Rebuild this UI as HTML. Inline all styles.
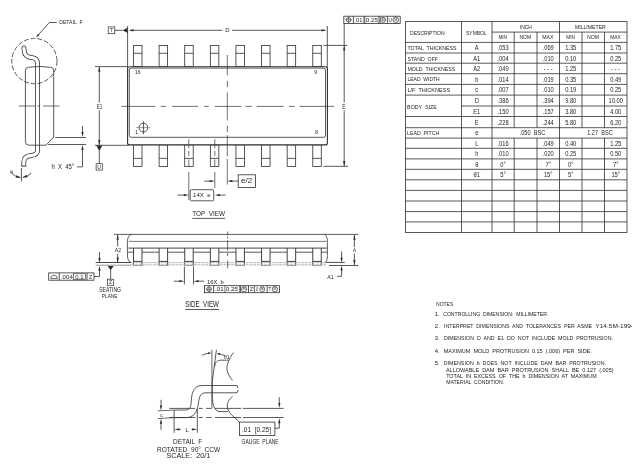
<!DOCTYPE html>
<html><head><meta charset="utf-8"><style>
html,body{margin:0;padding:0;background:#fff;}
svg{display:block;}
text{font-family:"Liberation Sans",sans-serif;white-space:pre;}
svg{will-change:transform;}
</style></head><body>
<svg width="632" height="467" viewBox="0 0 632 467">
<rect width="632" height="467" fill="#fff"/>
<rect x="405.50" y="21.60" width="221.50" height="210.90" fill="none" stroke="#2e2e2e" stroke-width="0.8"/>
<line x1="461.50" y1="21.60" x2="461.50" y2="232.50" stroke="#2e2e2e" stroke-width="0.8"/>
<line x1="492.00" y1="21.60" x2="492.00" y2="232.50" stroke="#2e2e2e" stroke-width="0.8"/>
<line x1="559.50" y1="21.60" x2="559.50" y2="232.50" stroke="#2e2e2e" stroke-width="0.8"/>
<line x1="514.20" y1="32.10" x2="514.20" y2="127.70" stroke="#2e2e2e" stroke-width="0.8"/>
<line x1="514.20" y1="138.10" x2="514.20" y2="232.50" stroke="#2e2e2e" stroke-width="0.8"/>
<line x1="537.00" y1="32.10" x2="537.00" y2="127.70" stroke="#2e2e2e" stroke-width="0.8"/>
<line x1="537.00" y1="138.10" x2="537.00" y2="232.50" stroke="#2e2e2e" stroke-width="0.8"/>
<line x1="582.00" y1="32.10" x2="582.00" y2="127.70" stroke="#2e2e2e" stroke-width="0.8"/>
<line x1="582.00" y1="138.10" x2="582.00" y2="232.50" stroke="#2e2e2e" stroke-width="0.8"/>
<line x1="604.50" y1="32.10" x2="604.50" y2="127.70" stroke="#2e2e2e" stroke-width="0.8"/>
<line x1="604.50" y1="138.10" x2="604.50" y2="232.50" stroke="#2e2e2e" stroke-width="0.8"/>
<line x1="492.00" y1="32.10" x2="627.00" y2="32.10" stroke="#2e2e2e" stroke-width="0.8"/>
<line x1="405.50" y1="42.40" x2="627.00" y2="42.40" stroke="#2e2e2e" stroke-width="0.8"/>
<line x1="405.50" y1="53.00" x2="627.00" y2="53.00" stroke="#2e2e2e" stroke-width="0.8"/>
<line x1="405.50" y1="63.20" x2="627.00" y2="63.20" stroke="#2e2e2e" stroke-width="0.8"/>
<line x1="405.50" y1="73.70" x2="627.00" y2="73.70" stroke="#2e2e2e" stroke-width="0.8"/>
<line x1="405.50" y1="84.40" x2="627.00" y2="84.40" stroke="#2e2e2e" stroke-width="0.8"/>
<line x1="405.50" y1="95.10" x2="627.00" y2="95.10" stroke="#2e2e2e" stroke-width="0.8"/>
<line x1="461.50" y1="106.00" x2="627.00" y2="106.00" stroke="#2e2e2e" stroke-width="0.8"/>
<line x1="405.50" y1="116.50" x2="627.00" y2="116.50" stroke="#2e2e2e" stroke-width="0.8"/>
<line x1="405.50" y1="127.70" x2="627.00" y2="127.70" stroke="#2e2e2e" stroke-width="0.8"/>
<line x1="405.50" y1="138.10" x2="627.00" y2="138.10" stroke="#2e2e2e" stroke-width="0.8"/>
<line x1="405.50" y1="148.30" x2="627.00" y2="148.30" stroke="#2e2e2e" stroke-width="0.8"/>
<line x1="405.50" y1="158.90" x2="627.00" y2="158.90" stroke="#2e2e2e" stroke-width="0.8"/>
<line x1="405.50" y1="169.30" x2="627.00" y2="169.30" stroke="#2e2e2e" stroke-width="0.8"/>
<line x1="405.50" y1="179.80" x2="627.00" y2="179.80" stroke="#2e2e2e" stroke-width="0.8"/>
<line x1="405.50" y1="190.40" x2="627.00" y2="190.40" stroke="#2e2e2e" stroke-width="0.8"/>
<line x1="405.50" y1="201.00" x2="627.00" y2="201.00" stroke="#2e2e2e" stroke-width="0.8"/>
<line x1="405.50" y1="211.60" x2="627.00" y2="211.60" stroke="#2e2e2e" stroke-width="0.8"/>
<line x1="405.50" y1="221.90" x2="627.00" y2="221.90" stroke="#2e2e2e" stroke-width="0.8"/>
<text x="410.00" y="34.90" font-size="6.00" text-anchor="start" fill="#1e1e1e" textLength="34.60" lengthAdjust="spacingAndGlyphs">DESCRIPTION</text>
<text x="466.10" y="35.00" font-size="5.71" text-anchor="start" fill="#1e1e1e" textLength="20.50" lengthAdjust="spacingAndGlyphs">SYMBOL</text>
<text x="519.80" y="29.20" font-size="5.57" text-anchor="start" fill="#1e1e1e" textLength="12.10" lengthAdjust="spacingAndGlyphs">INCH</text>
<text x="574.90" y="28.80" font-size="5.57" text-anchor="start" fill="#1e1e1e" textLength="30.90" lengthAdjust="spacingAndGlyphs">MILLIMETER</text>
<text x="498.40" y="39.00" font-size="5.71" text-anchor="start" fill="#1e1e1e" textLength="8.60" lengthAdjust="spacingAndGlyphs">MIN</text>
<text x="519.40" y="39.00" font-size="5.71" text-anchor="start" fill="#1e1e1e" textLength="11.80" lengthAdjust="spacingAndGlyphs">NOM</text>
<text x="542.20" y="39.00" font-size="5.71" text-anchor="start" fill="#1e1e1e" textLength="11.20" lengthAdjust="spacingAndGlyphs">MAX</text>
<text x="566.20" y="39.00" font-size="5.71" text-anchor="start" fill="#1e1e1e" textLength="8.70" lengthAdjust="spacingAndGlyphs">MIN</text>
<text x="586.90" y="39.00" font-size="5.71" text-anchor="start" fill="#1e1e1e" textLength="12.10" lengthAdjust="spacingAndGlyphs">NOM</text>
<text x="610.20" y="39.00" font-size="5.71" text-anchor="start" fill="#1e1e1e" textLength="10.60" lengthAdjust="spacingAndGlyphs">MAX</text>
<text x="407.50" y="50.10" font-size="5.86" text-anchor="start" fill="#1e1e1e" textLength="48.90" lengthAdjust="spacingAndGlyphs">TOTAL  THICKNESS</text>
<text x="407.50" y="60.60" font-size="5.86" text-anchor="start" fill="#1e1e1e" textLength="30.50" lengthAdjust="spacingAndGlyphs">STAND  OFF</text>
<text x="407.50" y="71.00" font-size="5.86" text-anchor="start" fill="#1e1e1e" textLength="47.80" lengthAdjust="spacingAndGlyphs">MOLD  THICKNESS</text>
<text x="407.50" y="81.40" font-size="5.86" text-anchor="start" fill="#1e1e1e" textLength="32.20" lengthAdjust="spacingAndGlyphs">LEAD  WIDTH</text>
<text x="407.50" y="91.80" font-size="5.86" text-anchor="start" fill="#1e1e1e" textLength="42.60" lengthAdjust="spacingAndGlyphs">L/F  THICKNESS</text>
<text x="407.10" y="108.70" font-size="5.86" text-anchor="start" fill="#1e1e1e" textLength="29.70" lengthAdjust="spacingAndGlyphs">BODY  SIZE</text>
<text x="407.10" y="134.70" font-size="5.86" text-anchor="start" fill="#1e1e1e" textLength="32.10" lengthAdjust="spacingAndGlyphs">LEAD  PITCH</text>
<text x="474.84" y="50.24" font-size="6.50" fill="#1e1e1e" textLength="3.82" lengthAdjust="spacingAndGlyphs">A</text>
<text x="497.53" y="50.24" font-size="6.50" fill="#1e1e1e" textLength="11.13" lengthAdjust="spacingAndGlyphs">.053</text>
<text x="542.68" y="50.24" font-size="6.50" fill="#1e1e1e" textLength="11.13" lengthAdjust="spacingAndGlyphs">.069</text>
<text x="565.18" y="50.24" font-size="6.50" fill="#1e1e1e" textLength="11.13" lengthAdjust="spacingAndGlyphs">1.35</text>
<text x="610.18" y="50.24" font-size="6.50" fill="#1e1e1e" textLength="11.13" lengthAdjust="spacingAndGlyphs">1.75</text>
<text x="473.25" y="60.64" font-size="6.50" fill="#1e1e1e" textLength="7.00" lengthAdjust="spacingAndGlyphs">A1</text>
<text x="497.53" y="60.64" font-size="6.50" fill="#1e1e1e" textLength="11.13" lengthAdjust="spacingAndGlyphs">.004</text>
<text x="542.68" y="60.64" font-size="6.50" fill="#1e1e1e" textLength="11.13" lengthAdjust="spacingAndGlyphs">.010</text>
<text x="565.18" y="60.64" font-size="6.50" fill="#1e1e1e" textLength="11.13" lengthAdjust="spacingAndGlyphs">0.10</text>
<text x="610.18" y="60.64" font-size="6.50" fill="#1e1e1e" textLength="11.13" lengthAdjust="spacingAndGlyphs">0.25</text>
<text x="473.25" y="70.99" font-size="6.50" fill="#1e1e1e" textLength="7.00" lengthAdjust="spacingAndGlyphs">A2</text>
<text x="497.53" y="70.99" font-size="6.50" fill="#1e1e1e" textLength="11.13" lengthAdjust="spacingAndGlyphs">.049</text>
<text x="543.80" y="70.99" font-size="6.50" fill="#1e1e1e" textLength="8.89" lengthAdjust="spacingAndGlyphs">- - -</text>
<text x="565.18" y="70.99" font-size="6.50" fill="#1e1e1e" textLength="11.13" lengthAdjust="spacingAndGlyphs">1.25</text>
<text x="611.30" y="70.99" font-size="6.50" fill="#1e1e1e" textLength="8.89" lengthAdjust="spacingAndGlyphs">- - -</text>
<text x="475.16" y="81.59" font-size="6.50" fill="#1e1e1e" textLength="3.18" lengthAdjust="spacingAndGlyphs">b</text>
<text x="497.53" y="81.59" font-size="6.50" fill="#1e1e1e" textLength="11.13" lengthAdjust="spacingAndGlyphs">.014</text>
<text x="542.68" y="81.59" font-size="6.50" fill="#1e1e1e" textLength="11.13" lengthAdjust="spacingAndGlyphs">.019</text>
<text x="565.18" y="81.59" font-size="6.50" fill="#1e1e1e" textLength="11.13" lengthAdjust="spacingAndGlyphs">0.35</text>
<text x="610.18" y="81.59" font-size="6.50" fill="#1e1e1e" textLength="11.13" lengthAdjust="spacingAndGlyphs">0.49</text>
<text x="475.32" y="92.29" font-size="6.50" fill="#1e1e1e" textLength="2.86" lengthAdjust="spacingAndGlyphs">c</text>
<text x="497.53" y="92.29" font-size="6.50" fill="#1e1e1e" textLength="11.13" lengthAdjust="spacingAndGlyphs">.007</text>
<text x="542.68" y="92.29" font-size="6.50" fill="#1e1e1e" textLength="11.13" lengthAdjust="spacingAndGlyphs">.010</text>
<text x="565.18" y="92.29" font-size="6.50" fill="#1e1e1e" textLength="11.13" lengthAdjust="spacingAndGlyphs">0.19</text>
<text x="610.18" y="92.29" font-size="6.50" fill="#1e1e1e" textLength="11.13" lengthAdjust="spacingAndGlyphs">0.25</text>
<text x="474.68" y="103.09" font-size="6.50" fill="#1e1e1e" textLength="4.13" lengthAdjust="spacingAndGlyphs">D</text>
<text x="497.53" y="103.09" font-size="6.50" fill="#1e1e1e" textLength="11.13" lengthAdjust="spacingAndGlyphs">.386</text>
<text x="542.68" y="103.09" font-size="6.50" fill="#1e1e1e" textLength="11.13" lengthAdjust="spacingAndGlyphs">.394</text>
<text x="565.18" y="103.09" font-size="6.50" fill="#1e1e1e" textLength="11.13" lengthAdjust="spacingAndGlyphs">9.80</text>
<text x="608.59" y="103.09" font-size="6.50" fill="#1e1e1e" textLength="14.31" lengthAdjust="spacingAndGlyphs">10.00</text>
<text x="473.25" y="113.79" font-size="6.50" fill="#1e1e1e" textLength="7.00" lengthAdjust="spacingAndGlyphs">E1</text>
<text x="497.53" y="113.79" font-size="6.50" fill="#1e1e1e" textLength="11.13" lengthAdjust="spacingAndGlyphs">.150</text>
<text x="542.68" y="113.79" font-size="6.50" fill="#1e1e1e" textLength="11.13" lengthAdjust="spacingAndGlyphs">.157</text>
<text x="565.18" y="113.79" font-size="6.50" fill="#1e1e1e" textLength="11.13" lengthAdjust="spacingAndGlyphs">3.80</text>
<text x="610.18" y="113.79" font-size="6.50" fill="#1e1e1e" textLength="11.13" lengthAdjust="spacingAndGlyphs">4.00</text>
<text x="474.84" y="124.64" font-size="6.50" fill="#1e1e1e" textLength="3.82" lengthAdjust="spacingAndGlyphs">E</text>
<text x="497.53" y="124.64" font-size="6.50" fill="#1e1e1e" textLength="11.13" lengthAdjust="spacingAndGlyphs">.228</text>
<text x="542.68" y="124.64" font-size="6.50" fill="#1e1e1e" textLength="11.13" lengthAdjust="spacingAndGlyphs">.244</text>
<text x="565.18" y="124.64" font-size="6.50" fill="#1e1e1e" textLength="11.13" lengthAdjust="spacingAndGlyphs">5.80</text>
<text x="610.18" y="124.64" font-size="6.50" fill="#1e1e1e" textLength="11.13" lengthAdjust="spacingAndGlyphs">6.20</text>
<text x="475.16" y="135.44" font-size="6.50" fill="#1e1e1e" textLength="3.18" lengthAdjust="spacingAndGlyphs">e</text>
<text x="475.16" y="145.74" font-size="6.50" fill="#1e1e1e" textLength="3.18" lengthAdjust="spacingAndGlyphs">L</text>
<text x="497.53" y="145.74" font-size="6.50" fill="#1e1e1e" textLength="11.13" lengthAdjust="spacingAndGlyphs">.016</text>
<text x="542.68" y="145.74" font-size="6.50" fill="#1e1e1e" textLength="11.13" lengthAdjust="spacingAndGlyphs">.049</text>
<text x="565.18" y="145.74" font-size="6.50" fill="#1e1e1e" textLength="11.13" lengthAdjust="spacingAndGlyphs">0.40</text>
<text x="610.18" y="145.74" font-size="6.50" fill="#1e1e1e" textLength="11.13" lengthAdjust="spacingAndGlyphs">1.25</text>
<text x="475.16" y="156.14" font-size="6.50" fill="#1e1e1e" textLength="3.18" lengthAdjust="spacingAndGlyphs">h</text>
<text x="497.53" y="156.14" font-size="6.50" fill="#1e1e1e" textLength="11.13" lengthAdjust="spacingAndGlyphs">.010</text>
<text x="542.68" y="156.14" font-size="6.50" fill="#1e1e1e" textLength="11.13" lengthAdjust="spacingAndGlyphs">.020</text>
<text x="565.18" y="156.14" font-size="6.50" fill="#1e1e1e" textLength="11.13" lengthAdjust="spacingAndGlyphs">0.25</text>
<text x="610.18" y="156.14" font-size="6.50" fill="#1e1e1e" textLength="11.13" lengthAdjust="spacingAndGlyphs">0.50</text>
<text x="475.16" y="166.64" font-size="6.50" fill="#1e1e1e" textLength="3.18" lengthAdjust="spacingAndGlyphs">θ</text>
<text x="500.37" y="166.64" font-size="6.50" fill="#1e1e1e" textLength="5.47" lengthAdjust="spacingAndGlyphs">0°</text>
<text x="545.52" y="166.64" font-size="6.50" fill="#1e1e1e" textLength="5.47" lengthAdjust="spacingAndGlyphs">7°</text>
<text x="568.02" y="166.64" font-size="6.50" fill="#1e1e1e" textLength="5.47" lengthAdjust="spacingAndGlyphs">0°</text>
<text x="613.02" y="166.64" font-size="6.50" fill="#1e1e1e" textLength="5.47" lengthAdjust="spacingAndGlyphs">7°</text>
<text x="473.57" y="177.09" font-size="6.50" fill="#1e1e1e" textLength="6.36" lengthAdjust="spacingAndGlyphs">θ1</text>
<text x="500.37" y="177.09" font-size="6.50" fill="#1e1e1e" textLength="5.47" lengthAdjust="spacingAndGlyphs">5°</text>
<text x="543.93" y="177.09" font-size="6.50" fill="#1e1e1e" textLength="8.65" lengthAdjust="spacingAndGlyphs">15°</text>
<text x="568.02" y="177.09" font-size="6.50" fill="#1e1e1e" textLength="5.47" lengthAdjust="spacingAndGlyphs">5°</text>
<text x="611.43" y="177.09" font-size="6.50" fill="#1e1e1e" textLength="8.65" lengthAdjust="spacingAndGlyphs">15°</text>
<text x="519.70" y="135.10" font-size="6.29" text-anchor="start" fill="#1e1e1e" textLength="25.60" lengthAdjust="spacingAndGlyphs">.050  BSC</text>
<text x="587.20" y="135.10" font-size="6.29" text-anchor="start" fill="#1e1e1e" textLength="25.50" lengthAdjust="spacingAndGlyphs">1.27  BSC</text>
<text x="436.1" y="305.8" font-size="5.9" fill="#1e1e1e" textLength="17.1" lengthAdjust="spacingAndGlyphs">NOTES</text>
<text x="434.8" y="315.6" font-size="5.9" fill="#1e1e1e">1.</text>
<text x="443.2" y="315.6" font-size="5.9" fill="#1e1e1e" textLength="105.2" lengthAdjust="spacingAndGlyphs">CONTROLLING  DIMENSION:  MILLIMETER.</text>
<text x="434.8" y="327.9" font-size="5.9" fill="#1e1e1e">2.</text>
<text x="444" y="327.9" font-size="5.9" fill="#1e1e1e" textLength="148.1" lengthAdjust="spacingAndGlyphs">INTERPRET  DIMENSIONS  AND  TOLERANCES  PER  ASME</text>
<text x="595.3" y="327.9" font-size="5.9" fill="#1e1e1e" textLength="41.2" lengthAdjust="spacingAndGlyphs">Y14.5M-1994.</text>
<text x="434.8" y="340.1" font-size="5.9" fill="#1e1e1e">3.</text>
<text x="444" y="340.1" font-size="5.9" fill="#1e1e1e" textLength="169.0" lengthAdjust="spacingAndGlyphs">DIMENSION  D  AND  E1  DO  NOT  INCLUDE  MOLD  PROTRUSION.</text>
<text x="434.8" y="353.0" font-size="5.9" fill="#1e1e1e">4.</text>
<text x="443.8" y="353.0" font-size="5.9" fill="#1e1e1e" textLength="148.0" lengthAdjust="spacingAndGlyphs">MAXIMUM  MOLD  PROTRUSION  0.15  (.006)  PER  SIDE.</text>
<text x="434.8" y="365.2" font-size="5.9" fill="#1e1e1e">5.</text>
<text x="443.8" y="365.2" font-size="5.9" fill="#1e1e1e" textLength="162.2" lengthAdjust="spacingAndGlyphs">DIMENSION  b  DOES  NOT  INCLUDE  DAM  BAR  PROTRUSION.</text>
<text x="445.9" y="371.7" font-size="5.9" fill="#1e1e1e" textLength="167.7" lengthAdjust="spacingAndGlyphs">ALLOWABLE  DAM  BAR  PROTRUSION  SHALL  BE  0.127  (.005)</text>
<text x="446.2" y="378.0" font-size="5.9" fill="#1e1e1e" textLength="150.4" lengthAdjust="spacingAndGlyphs">TOTAL  IN  EXCESS  OF  THE  b  DIMENSION  AT  MAXIMUM</text>
<text x="446.2" y="383.9" font-size="5.9" fill="#1e1e1e" textLength="58.0" lengthAdjust="spacingAndGlyphs">MATERIAL  CONDITION.</text>
<rect x="133.50" y="45.40" width="8.50" height="21.20" fill="none" stroke="#2e2e2e" stroke-width="0.8"/>
<line x1="133.50" y1="53.30" x2="142.00" y2="53.30" stroke="#2e2e2e" stroke-width="0.8"/>
<rect x="159.11" y="45.40" width="8.50" height="21.20" fill="none" stroke="#2e2e2e" stroke-width="0.8"/>
<line x1="159.11" y1="53.30" x2="167.61" y2="53.30" stroke="#2e2e2e" stroke-width="0.8"/>
<rect x="184.72" y="45.40" width="8.50" height="21.20" fill="none" stroke="#2e2e2e" stroke-width="0.8"/>
<line x1="184.72" y1="53.30" x2="193.22" y2="53.30" stroke="#2e2e2e" stroke-width="0.8"/>
<rect x="210.33" y="45.40" width="8.50" height="21.20" fill="none" stroke="#2e2e2e" stroke-width="0.8"/>
<line x1="210.33" y1="53.30" x2="218.83" y2="53.30" stroke="#2e2e2e" stroke-width="0.8"/>
<rect x="235.94" y="45.40" width="8.50" height="21.20" fill="none" stroke="#2e2e2e" stroke-width="0.8"/>
<line x1="235.94" y1="53.30" x2="244.44" y2="53.30" stroke="#2e2e2e" stroke-width="0.8"/>
<rect x="261.55" y="45.40" width="8.50" height="21.20" fill="none" stroke="#2e2e2e" stroke-width="0.8"/>
<line x1="261.55" y1="53.30" x2="270.05" y2="53.30" stroke="#2e2e2e" stroke-width="0.8"/>
<rect x="287.16" y="45.40" width="8.50" height="21.20" fill="none" stroke="#2e2e2e" stroke-width="0.8"/>
<line x1="287.16" y1="53.30" x2="295.66" y2="53.30" stroke="#2e2e2e" stroke-width="0.8"/>
<rect x="312.77" y="45.40" width="8.50" height="21.20" fill="none" stroke="#2e2e2e" stroke-width="0.8"/>
<line x1="312.77" y1="53.30" x2="321.27" y2="53.30" stroke="#2e2e2e" stroke-width="0.8"/>
<rect x="133.50" y="144.80" width="8.50" height="21.70" fill="none" stroke="#2e2e2e" stroke-width="0.8"/>
<line x1="133.50" y1="158.40" x2="142.00" y2="158.40" stroke="#2e2e2e" stroke-width="0.8"/>
<rect x="159.11" y="144.80" width="8.50" height="21.70" fill="none" stroke="#2e2e2e" stroke-width="0.8"/>
<line x1="159.11" y1="158.40" x2="167.61" y2="158.40" stroke="#2e2e2e" stroke-width="0.8"/>
<rect x="184.72" y="144.80" width="8.50" height="21.70" fill="none" stroke="#2e2e2e" stroke-width="0.8"/>
<line x1="184.72" y1="158.40" x2="193.22" y2="158.40" stroke="#2e2e2e" stroke-width="0.8"/>
<rect x="210.33" y="144.80" width="8.50" height="21.70" fill="none" stroke="#2e2e2e" stroke-width="0.8"/>
<line x1="210.33" y1="158.40" x2="218.83" y2="158.40" stroke="#2e2e2e" stroke-width="0.8"/>
<rect x="235.94" y="144.80" width="8.50" height="21.70" fill="none" stroke="#2e2e2e" stroke-width="0.8"/>
<line x1="235.94" y1="158.40" x2="244.44" y2="158.40" stroke="#2e2e2e" stroke-width="0.8"/>
<rect x="261.55" y="144.80" width="8.50" height="21.70" fill="none" stroke="#2e2e2e" stroke-width="0.8"/>
<line x1="261.55" y1="158.40" x2="270.05" y2="158.40" stroke="#2e2e2e" stroke-width="0.8"/>
<rect x="287.16" y="144.80" width="8.50" height="21.70" fill="none" stroke="#2e2e2e" stroke-width="0.8"/>
<line x1="287.16" y1="158.40" x2="295.66" y2="158.40" stroke="#2e2e2e" stroke-width="0.8"/>
<rect x="312.77" y="144.80" width="8.50" height="21.70" fill="none" stroke="#2e2e2e" stroke-width="0.8"/>
<line x1="312.77" y1="158.40" x2="321.27" y2="158.40" stroke="#2e2e2e" stroke-width="0.8"/>
<rect x="127.6" y="66.7" width="199.8" height="78.2" rx="2" fill="#fff" stroke="#2e2e2e" stroke-width="1.1"/>
<rect x="129.3" y="68.1" width="196.2" height="69.2" rx="2" fill="none" stroke="#2e2e2e" stroke-width="0.8"/>
<line x1="127.60" y1="26.00" x2="127.60" y2="68.00" stroke="#2e2e2e" stroke-width="0.8"/>
<line x1="327.30" y1="26.00" x2="327.30" y2="68.00" stroke="#2e2e2e" stroke-width="0.8"/>
<line x1="95.00" y1="66.60" x2="127.60" y2="66.60" stroke="#2e2e2e" stroke-width="0.8"/>
<line x1="95.00" y1="145.30" x2="128.50" y2="145.30" stroke="#2e2e2e" stroke-width="0.8"/>
<line x1="323.50" y1="45.40" x2="347.50" y2="45.40" stroke="#2e2e2e" stroke-width="0.8"/>
<line x1="323.50" y1="166.30" x2="348.00" y2="166.30" stroke="#2e2e2e" stroke-width="0.8"/>
<line x1="130.00" y1="30.30" x2="222.50" y2="30.30" stroke="#2e2e2e" stroke-width="0.8"/>
<line x1="232.00" y1="30.30" x2="325.00" y2="30.30" stroke="#2e2e2e" stroke-width="0.8"/>
<polygon points="129.00,30.30 133.50,29.15 133.50,31.45" fill="#2e2e2e"/>
<polygon points="326.10,30.30 321.60,31.45 321.60,29.15" fill="#2e2e2e"/>
<text x="227.30" y="31.86" font-size="6.00" text-anchor="middle" fill="#1e1e1e">D</text>
<polygon points="127.6,27.7 127.6,32.9 122.6,30.3" fill="#2e2e2e"/>
<line x1="114.80" y1="30.30" x2="122.60" y2="30.30" stroke="#2e2e2e" stroke-width="0.8"/>
<rect x="108.20" y="26.90" width="6.60" height="6.80" fill="none" stroke="#2e2e2e" stroke-width="0.7"/>
<text x="111.50" y="32.09" font-size="5.20" text-anchor="middle" fill="#1e1e1e">T</text>
<line x1="99.30" y1="67.00" x2="99.30" y2="102.50" stroke="#2e2e2e" stroke-width="0.8"/>
<line x1="99.30" y1="110.30" x2="99.30" y2="145.30" stroke="#2e2e2e" stroke-width="0.8"/>
<polygon points="99.30,66.80 100.45,71.80 98.15,71.80" fill="#2e2e2e"/>
<polygon points="99.30,144.90 98.15,139.90 100.45,139.90" fill="#2e2e2e"/>
<text x="96.70" y="108.80" font-size="6.86" text-anchor="start" fill="#1e1e1e" textLength="5.60" lengthAdjust="spacingAndGlyphs">E1</text>
<polygon points="96.2,145.6 102.4,145.6 99.3,150.9" fill="#2e2e2e"/>
<line x1="99.30" y1="150.50" x2="99.30" y2="163.70" stroke="#2e2e2e" stroke-width="0.8"/>
<rect x="96.10" y="163.70" width="6.20" height="6.40" fill="none" stroke="#2e2e2e" stroke-width="0.7"/>
<text x="99.20" y="168.69" font-size="5.20" text-anchor="middle" fill="#1e1e1e">U</text>
<line x1="344.20" y1="23.30" x2="344.20" y2="102.50" stroke="#2e2e2e" stroke-width="0.8"/>
<line x1="344.20" y1="110.30" x2="344.20" y2="166.30" stroke="#2e2e2e" stroke-width="0.8"/>
<polygon points="344.20,45.60 345.35,50.60 343.05,50.60" fill="#2e2e2e"/>
<polygon points="344.20,166.10 343.05,161.10 345.35,161.10" fill="#2e2e2e"/>
<text x="342.30" y="108.80" font-size="6.86" text-anchor="start" fill="#1e1e1e" textLength="3.30" lengthAdjust="spacingAndGlyphs">E</text>
<rect x="343.80" y="16.20" width="56.40" height="7.20" fill="none" stroke="#2e2e2e" stroke-width="0.8"/>
<line x1="353.40" y1="16.20" x2="353.40" y2="23.40" stroke="#2e2e2e" stroke-width="0.8"/>
<line x1="364.00" y1="16.20" x2="364.00" y2="23.40" stroke="#2e2e2e" stroke-width="0.8"/>
<line x1="380.00" y1="16.20" x2="380.00" y2="23.40" stroke="#2e2e2e" stroke-width="0.8"/>
<line x1="387.40" y1="16.20" x2="387.40" y2="23.40" stroke="#2e2e2e" stroke-width="0.8"/>
<circle cx="348.60" cy="19.80" r="2.30" fill="none" stroke="#2e2e2e" stroke-width="0.7"/>
<line x1="345.40" y1="19.80" x2="351.80" y2="19.80" stroke="#2e2e2e" stroke-width="0.6"/>
<line x1="348.60" y1="16.80" x2="348.60" y2="22.80" stroke="#2e2e2e" stroke-width="0.6"/>
<text x="354.40" y="22.10" font-size="6.14" text-anchor="start" fill="#1e1e1e" textLength="8.00" lengthAdjust="spacingAndGlyphs">.01</text>
<polyline points="365.60,16.90 364.80,16.90 364.80,22.70 365.60,22.70" fill="none" stroke="#2e2e2e" stroke-width="0.6"/>
<polyline points="378.10,16.90 378.90,16.90 378.90,22.70 378.10,22.70" fill="none" stroke="#2e2e2e" stroke-width="0.6"/>
<text x="365.80" y="22.10" font-size="6.14" text-anchor="start" fill="#1e1e1e" textLength="12.30" lengthAdjust="spacingAndGlyphs">0.25</text>
<circle cx="383.10" cy="19.80" r="2.50" fill="none" stroke="#2e2e2e" stroke-width="0.7"/>
<text x="383.10" y="21.07" font-size="3.40" text-anchor="middle" fill="#1e1e1e">M</text>
<text x="388.50" y="22.10" font-size="6.14" text-anchor="start" fill="#1e1e1e" textLength="3.30" lengthAdjust="spacingAndGlyphs">U</text>
<circle cx="395.70" cy="19.80" r="2.80" fill="none" stroke="#2e2e2e" stroke-width="0.7"/>
<text x="395.70" y="21.14" font-size="3.60" text-anchor="middle" fill="#1e1e1e">M</text>
<line x1="121.30" y1="106.40" x2="155.30" y2="106.40" stroke="#333" stroke-width="0.7"/>
<line x1="160.70" y1="106.40" x2="166.00" y2="106.40" stroke="#333" stroke-width="0.7"/>
<line x1="171.90" y1="106.40" x2="198.00" y2="106.40" stroke="#333" stroke-width="0.7"/>
<line x1="203.90" y1="106.40" x2="208.70" y2="106.40" stroke="#333" stroke-width="0.7"/>
<line x1="214.60" y1="106.40" x2="241.40" y2="106.40" stroke="#333" stroke-width="0.7"/>
<line x1="245.60" y1="106.40" x2="252.00" y2="106.40" stroke="#333" stroke-width="0.7"/>
<line x1="256.80" y1="106.40" x2="283.60" y2="106.40" stroke="#333" stroke-width="0.7"/>
<line x1="288.80" y1="106.40" x2="294.80" y2="106.40" stroke="#333" stroke-width="0.7"/>
<line x1="299.50" y1="106.40" x2="334.00" y2="106.40" stroke="#333" stroke-width="0.7"/>
<line x1="227.30" y1="55.00" x2="227.30" y2="75.40" stroke="#333" stroke-width="0.7"/>
<line x1="227.30" y1="80.70" x2="227.30" y2="87.10" stroke="#333" stroke-width="0.7"/>
<line x1="227.30" y1="92.50" x2="227.30" y2="120.40" stroke="#333" stroke-width="0.7"/>
<line x1="227.30" y1="125.70" x2="227.30" y2="132.10" stroke="#333" stroke-width="0.7"/>
<line x1="227.30" y1="135.10" x2="227.30" y2="156.30" stroke="#333" stroke-width="0.7"/>
<line x1="227.30" y1="158.80" x2="227.30" y2="184.50" stroke="#333" stroke-width="0.7"/>
<line x1="188.80" y1="139.20" x2="188.80" y2="148.20" stroke="#333" stroke-width="0.7"/>
<line x1="188.80" y1="151.00" x2="188.80" y2="155.90" stroke="#333" stroke-width="0.7"/>
<line x1="188.80" y1="159.40" x2="188.80" y2="166.40" stroke="#333" stroke-width="0.7"/>
<line x1="188.80" y1="171.90" x2="188.80" y2="200.00" stroke="#333" stroke-width="0.7"/>
<line x1="214.80" y1="139.20" x2="214.80" y2="148.20" stroke="#333" stroke-width="0.7"/>
<line x1="214.80" y1="151.00" x2="214.80" y2="155.90" stroke="#333" stroke-width="0.7"/>
<line x1="214.80" y1="159.40" x2="214.80" y2="166.40" stroke="#333" stroke-width="0.7"/>
<line x1="214.80" y1="171.90" x2="214.80" y2="188.00" stroke="#333" stroke-width="0.7"/>
<circle cx="143.40" cy="127.60" r="4.40" fill="none" stroke="#2e2e2e" stroke-width="0.8"/>
<line x1="136.00" y1="127.60" x2="149.90" y2="127.60" stroke="#777" stroke-width="0.7"/>
<line x1="143.40" y1="121.30" x2="143.40" y2="134.40" stroke="#2e2e2e" stroke-width="0.8"/>
<text x="136.60" y="133.72" font-size="5.00" text-anchor="middle" fill="#1e1e1e">1</text>
<text x="137.80" y="73.62" font-size="5.00" text-anchor="middle" fill="#1e1e1e">16</text>
<text x="315.60" y="74.42" font-size="5.00" text-anchor="middle" fill="#1e1e1e">9</text>
<text x="316.60" y="134.02" font-size="5.00" text-anchor="middle" fill="#1e1e1e">8</text>
<polygon points="188.80,195.10 183.80,196.25 183.80,193.95" fill="#2e2e2e"/>
<line x1="177.70" y1="195.10" x2="185.00" y2="195.10" stroke="#2e2e2e" stroke-width="0.8"/>
<polygon points="214.80,195.10 219.80,193.95 219.80,196.25" fill="#2e2e2e"/>
<line x1="218.00" y1="195.10" x2="225.60" y2="195.10" stroke="#2e2e2e" stroke-width="0.8"/>
<rect x="190.20" y="189.70" width="23.50" height="11.10" rx="1.2" fill="none" stroke="#2e2e2e" stroke-width="0.8"/>
<text x="193.10" y="197.40" font-size="5.86" text-anchor="start" fill="#1e1e1e" textLength="17.50" lengthAdjust="spacingAndGlyphs">14X  e</text>
<polygon points="214.80,181.10 209.80,182.25 209.80,179.95" fill="#2e2e2e"/>
<line x1="204.20" y1="181.10" x2="211.00" y2="181.10" stroke="#2e2e2e" stroke-width="0.8"/>
<polygon points="227.30,181.10 232.30,179.95 232.30,182.25" fill="#2e2e2e"/>
<line x1="230.00" y1="181.10" x2="238.20" y2="181.10" stroke="#2e2e2e" stroke-width="0.8"/>
<rect x="238.20" y="174.80" width="17.40" height="12.60" fill="none" stroke="#2e2e2e" stroke-width="0.8"/>
<text x="241.00" y="183.40" font-size="6.86" text-anchor="start" fill="#1e1e1e" textLength="11.20" lengthAdjust="spacingAndGlyphs">e/2</text>
<text x="192.30" y="216.30" font-size="7.57" text-anchor="start" fill="#1e1e1e" textLength="32.80" lengthAdjust="spacingAndGlyphs">TOP  VIEW</text>
<line x1="192.30" y1="218.40" x2="225.10" y2="218.40" stroke="#2e2e2e" stroke-width="0.8"/>
<path d="M 23.9 47.6 L 24.2 50.8 C 24.5 55.2, 27.6 57.2, 32.0 57.6 C 36.2 58.0, 37.5 60.0, 37.55 63.5 L 37.6 150.3 C 37.6 153.8, 35.2 155.1, 31.0 155.5 C 26.5 156.0, 23.9 158.5, 23.8 162.0 L 23.8 166.4" fill="none" stroke="#2a2a2a" stroke-width="4.8" stroke-linejoin="round"/>
<path d="M 23.9 47.6 L 24.2 50.8 C 24.5 55.2, 27.6 57.2, 32.0 57.6 C 36.2 58.0, 37.5 60.0, 37.55 63.5 L 37.6 150.3 C 37.6 153.8, 35.2 155.1, 31.0 155.5 C 26.5 156.0, 23.9 158.5, 23.8 162.0 L 23.8 166.4" fill="none" stroke="#fff" stroke-width="3.3" stroke-linejoin="round"/>
<path d="M 21.9 47.7 A 2.0 2.0 0 0 1 25.9 47.6" fill="none" stroke="#2a2a2a" stroke-width="0.75"/>
<line x1="21.40" y1="166.00" x2="26.20" y2="166.00" stroke="#2a2a2a" stroke-width="0.75"/>
<path d="M 25.4 141.7 L 25.4 70.2 Q 25.4 67.6 28.3 67.3 Q 39.5 65.6 50.8 67.3 Q 53.7 67.6 53.7 70.2 L 53.7 137.1 L 46.1 145.2 L 28.8 145.2 Q 25.4 145.2 25.4 141.7 Z" fill="none" stroke="#2e2e2e" stroke-width="0.8"/>
<circle cx="34.40" cy="61.10" r="22.60" fill="none" stroke="#2e2e2e" stroke-width="0.8" stroke-dasharray="4.8 2.0"/>
<line x1="36.90" y1="36.40" x2="49.40" y2="22.50" stroke="#2e2e2e" stroke-width="0.8"/>
<line x1="49.40" y1="22.50" x2="56.80" y2="22.50" stroke="#2e2e2e" stroke-width="0.8"/>
<polygon points="36.20,37.40 37.99,33.68 39.53,34.96" fill="#2e2e2e"/>
<text x="59.20" y="24.30" font-size="6.00" text-anchor="start" fill="#1e1e1e" textLength="23.50" lengthAdjust="spacingAndGlyphs">DETAIL  F</text>
<line x1="18.70" y1="106.00" x2="35.00" y2="106.00" stroke="#333" stroke-width="0.7"/>
<line x1="37.60" y1="106.00" x2="40.00" y2="106.00" stroke="#333" stroke-width="0.7"/>
<line x1="43.20" y1="106.00" x2="59.50" y2="106.00" stroke="#333" stroke-width="0.7"/>
<line x1="21.40" y1="167.90" x2="21.40" y2="181.40" stroke="#2e2e2e" stroke-width="0.8"/>
<path d="M 11.4 172.4 A 12.5 12.5 0 0 0 20.5 177.5" fill="none" stroke="#2e2e2e" stroke-width="0.8"/>
<path d="M 31.3 173.0 A 12.5 12.5 0 0 1 23.0 177.4" fill="none" stroke="#2e2e2e" stroke-width="0.8"/>
<polygon points="20.90,177.50 15.74,177.79 16.25,175.24" fill="#2e2e2e"/>
<polygon points="22.40,177.40 26.82,174.72 27.56,177.21" fill="#2e2e2e"/>
<text x="10.30" y="173.90" font-size="4.60" text-anchor="start" fill="#1e1e1e">θ</text>
<line x1="55.30" y1="137.50" x2="86.10" y2="137.50" stroke="#2e2e2e" stroke-width="0.8"/>
<line x1="48.20" y1="144.50" x2="86.10" y2="144.50" stroke="#2e2e2e" stroke-width="0.8"/>
<line x1="82.50" y1="125.80" x2="82.50" y2="133.00" stroke="#2e2e2e" stroke-width="0.8"/>
<polygon points="82.50,137.10 81.35,132.10 83.65,132.10" fill="#2e2e2e"/>
<line x1="82.50" y1="148.00" x2="82.50" y2="166.90" stroke="#2e2e2e" stroke-width="0.8"/>
<polygon points="82.50,144.90 83.65,149.90 81.35,149.90" fill="#2e2e2e"/>
<line x1="77.10" y1="166.90" x2="82.50" y2="166.90" stroke="#2e2e2e" stroke-width="0.8"/>
<text x="51.40" y="169.40" font-size="6.29" text-anchor="start" fill="#1e1e1e" textLength="22.80" lengthAdjust="spacingAndGlyphs">h  X  45°</text>
<line x1="114.00" y1="234.40" x2="358.40" y2="234.40" stroke="#2e2e2e" stroke-width="0.8"/>
<path d="M 131.6 234.4 C 129.0 234.8, 127.5 237.5, 127.4 242.5 L 127.4 255.0 C 127.5 259.0, 128.6 261.6, 131.0 262.5" fill="none" stroke="#2e2e2e" stroke-width="0.8"/>
<path d="M 324.0 234.4 C 326.4 234.8, 327.4 237.5, 327.4 242.5 L 327.4 255.5 C 327.4 259.5, 326.6 261.8, 324.6 262.8" fill="none" stroke="#2e2e2e" stroke-width="0.8"/>
<line x1="128.80" y1="241.40" x2="326.50" y2="241.40" stroke="#555" stroke-width="0.8"/>
<line x1="128.30" y1="248.10" x2="326.80" y2="248.10" stroke="#444" stroke-width="1.0"/>
<line x1="128.00" y1="252.20" x2="133.50" y2="252.20" stroke="#2e2e2e" stroke-width="0.8"/>
<line x1="142.00" y1="252.20" x2="159.11" y2="252.20" stroke="#2e2e2e" stroke-width="0.8"/>
<line x1="167.61" y1="252.20" x2="184.72" y2="252.20" stroke="#2e2e2e" stroke-width="0.8"/>
<line x1="193.22" y1="252.20" x2="210.33" y2="252.20" stroke="#2e2e2e" stroke-width="0.8"/>
<line x1="218.83" y1="252.20" x2="235.94" y2="252.20" stroke="#2e2e2e" stroke-width="0.8"/>
<line x1="244.44" y1="252.20" x2="261.55" y2="252.20" stroke="#2e2e2e" stroke-width="0.8"/>
<line x1="270.05" y1="252.20" x2="287.16" y2="252.20" stroke="#2e2e2e" stroke-width="0.8"/>
<line x1="295.66" y1="252.20" x2="312.77" y2="252.20" stroke="#2e2e2e" stroke-width="0.8"/>
<line x1="321.27" y1="252.20" x2="327.00" y2="252.20" stroke="#2e2e2e" stroke-width="0.8"/>
<line x1="133.50" y1="248.10" x2="133.50" y2="265.60" stroke="#2e2e2e" stroke-width="0.9"/>
<line x1="142.00" y1="248.10" x2="142.00" y2="265.60" stroke="#2e2e2e" stroke-width="0.9"/>
<line x1="133.50" y1="261.40" x2="142.00" y2="261.40" stroke="#2e2e2e" stroke-width="0.9"/>
<line x1="159.11" y1="248.10" x2="159.11" y2="265.60" stroke="#2e2e2e" stroke-width="0.9"/>
<line x1="167.61" y1="248.10" x2="167.61" y2="265.60" stroke="#2e2e2e" stroke-width="0.9"/>
<line x1="159.11" y1="261.40" x2="167.61" y2="261.40" stroke="#2e2e2e" stroke-width="0.9"/>
<line x1="184.72" y1="248.10" x2="184.72" y2="265.60" stroke="#2e2e2e" stroke-width="0.9"/>
<line x1="193.22" y1="248.10" x2="193.22" y2="265.60" stroke="#2e2e2e" stroke-width="0.9"/>
<line x1="184.72" y1="261.40" x2="193.22" y2="261.40" stroke="#2e2e2e" stroke-width="0.9"/>
<line x1="210.33" y1="248.10" x2="210.33" y2="265.60" stroke="#2e2e2e" stroke-width="0.9"/>
<line x1="218.83" y1="248.10" x2="218.83" y2="265.60" stroke="#2e2e2e" stroke-width="0.9"/>
<line x1="210.33" y1="261.40" x2="218.83" y2="261.40" stroke="#2e2e2e" stroke-width="0.9"/>
<line x1="235.94" y1="248.10" x2="235.94" y2="265.60" stroke="#2e2e2e" stroke-width="0.9"/>
<line x1="244.44" y1="248.10" x2="244.44" y2="265.60" stroke="#2e2e2e" stroke-width="0.9"/>
<line x1="235.94" y1="261.40" x2="244.44" y2="261.40" stroke="#2e2e2e" stroke-width="0.9"/>
<line x1="261.55" y1="248.10" x2="261.55" y2="265.60" stroke="#2e2e2e" stroke-width="0.9"/>
<line x1="270.05" y1="248.10" x2="270.05" y2="265.60" stroke="#2e2e2e" stroke-width="0.9"/>
<line x1="261.55" y1="261.40" x2="270.05" y2="261.40" stroke="#2e2e2e" stroke-width="0.9"/>
<line x1="287.16" y1="248.10" x2="287.16" y2="265.60" stroke="#2e2e2e" stroke-width="0.9"/>
<line x1="295.66" y1="248.10" x2="295.66" y2="265.60" stroke="#2e2e2e" stroke-width="0.9"/>
<line x1="287.16" y1="261.40" x2="295.66" y2="261.40" stroke="#2e2e2e" stroke-width="0.9"/>
<line x1="312.77" y1="248.10" x2="312.77" y2="265.60" stroke="#2e2e2e" stroke-width="0.9"/>
<line x1="321.27" y1="248.10" x2="321.27" y2="265.60" stroke="#2e2e2e" stroke-width="0.9"/>
<line x1="312.77" y1="261.40" x2="321.27" y2="261.40" stroke="#2e2e2e" stroke-width="0.9"/>
<line x1="95.70" y1="262.50" x2="131.00" y2="262.50" stroke="#333" stroke-width="0.9"/>
<line x1="131.00" y1="262.70" x2="326.00" y2="262.70" stroke="#aaa" stroke-width="0.9" stroke-dasharray="3 0.7"/>
<line x1="326.00" y1="262.40" x2="344.80" y2="262.40" stroke="#222" stroke-width="0.8"/>
<line x1="95.70" y1="265.20" x2="131.00" y2="265.20" stroke="#888" stroke-width="0.9"/>
<line x1="131.00" y1="264.80" x2="326.00" y2="264.80" stroke="#aaa" stroke-width="0.9" stroke-dasharray="3 0.7"/>
<line x1="133.50" y1="265.60" x2="142.00" y2="265.60" stroke="#888" stroke-width="0.8"/>
<line x1="159.11" y1="265.60" x2="167.61" y2="265.60" stroke="#888" stroke-width="0.8"/>
<line x1="184.72" y1="265.60" x2="193.22" y2="265.60" stroke="#888" stroke-width="0.8"/>
<line x1="210.33" y1="265.60" x2="218.83" y2="265.60" stroke="#888" stroke-width="0.8"/>
<line x1="235.94" y1="265.60" x2="244.44" y2="265.60" stroke="#888" stroke-width="0.8"/>
<line x1="261.55" y1="265.60" x2="270.05" y2="265.60" stroke="#888" stroke-width="0.8"/>
<line x1="287.16" y1="265.60" x2="295.66" y2="265.60" stroke="#888" stroke-width="0.8"/>
<line x1="312.77" y1="265.60" x2="321.27" y2="265.60" stroke="#888" stroke-width="0.8"/>
<line x1="227.60" y1="231.50" x2="227.60" y2="235.40" stroke="#333" stroke-width="0.7"/>
<line x1="227.60" y1="236.60" x2="227.60" y2="238.60" stroke="#333" stroke-width="0.7"/>
<line x1="227.60" y1="240.20" x2="227.60" y2="250.50" stroke="#333" stroke-width="0.7"/>
<line x1="227.60" y1="253.00" x2="227.60" y2="256.00" stroke="#333" stroke-width="0.7"/>
<line x1="227.60" y1="260.50" x2="227.60" y2="268.30" stroke="#333" stroke-width="0.7"/>
<line x1="329.00" y1="265.50" x2="358.40" y2="265.50" stroke="#444" stroke-width="0.9"/>
<line x1="117.70" y1="235.00" x2="117.70" y2="246.50" stroke="#2e2e2e" stroke-width="0.8"/>
<line x1="117.70" y1="253.80" x2="117.70" y2="262.00" stroke="#2e2e2e" stroke-width="0.8"/>
<polygon points="117.70,234.70 118.85,239.70 116.55,239.70" fill="#2e2e2e"/>
<polygon points="117.70,262.60 116.55,257.60 118.85,257.60" fill="#2e2e2e"/>
<text x="114.70" y="252.10" font-size="5.71" text-anchor="start" fill="#1e1e1e" textLength="6.40" lengthAdjust="spacingAndGlyphs">A2</text>
<line x1="354.40" y1="235.00" x2="354.40" y2="247.00" stroke="#2e2e2e" stroke-width="0.8"/>
<line x1="354.40" y1="253.50" x2="354.40" y2="265.00" stroke="#2e2e2e" stroke-width="0.8"/>
<polygon points="354.40,234.70 355.55,239.70 353.25,239.70" fill="#2e2e2e"/>
<polygon points="354.40,265.00 353.25,260.00 355.55,260.00" fill="#2e2e2e"/>
<text x="352.90" y="252.10" font-size="5.14" text-anchor="start" fill="#1e1e1e" textLength="3.10" lengthAdjust="spacingAndGlyphs">A</text>
<line x1="341.60" y1="251.40" x2="341.60" y2="258.00" stroke="#2e2e2e" stroke-width="0.8"/>
<polygon points="341.60,262.70 340.45,257.70 342.75,257.70" fill="#2e2e2e"/>
<line x1="341.60" y1="270.00" x2="341.60" y2="276.30" stroke="#2e2e2e" stroke-width="0.8"/>
<polygon points="341.60,265.60 342.75,270.60 340.45,270.60" fill="#2e2e2e"/>
<line x1="337.00" y1="276.30" x2="341.60" y2="276.30" stroke="#2e2e2e" stroke-width="0.8"/>
<text x="327.30" y="278.80" font-size="5.57" text-anchor="start" fill="#1e1e1e" textLength="6.20" lengthAdjust="spacingAndGlyphs">A1</text>
<line x1="99.50" y1="252.00" x2="99.50" y2="259.00" stroke="#2e2e2e" stroke-width="0.8"/>
<polygon points="99.50,263.10 98.35,258.10 100.65,258.10" fill="#2e2e2e"/>
<line x1="99.50" y1="270.00" x2="99.50" y2="276.50" stroke="#2e2e2e" stroke-width="0.8"/>
<polygon points="99.50,265.80 100.65,270.80 98.35,270.80" fill="#2e2e2e"/>
<line x1="94.00" y1="276.50" x2="99.50" y2="276.50" stroke="#2e2e2e" stroke-width="0.8"/>
<rect x="48.70" y="272.90" width="45.30" height="7.30" fill="none" stroke="#2e2e2e" stroke-width="0.8"/>
<line x1="59.20" y1="272.90" x2="59.20" y2="280.20" stroke="#2e2e2e" stroke-width="0.8"/>
<line x1="87.00" y1="272.90" x2="87.00" y2="280.20" stroke="#2e2e2e" stroke-width="0.8"/>
<path d="M 50.7 278.6 A 3.3 3.4 0 0 1 57.3 278.6 Z" fill="none" stroke="#2e2e2e" stroke-width="0.7"/>
<text x="60.90" y="278.60" font-size="5.71" text-anchor="start" fill="#1e1e1e" textLength="11.90" lengthAdjust="spacingAndGlyphs">.004</text>
<rect x="73.30" y="273.80" width="12.30" height="5.50" fill="none" stroke="#2e2e2e" stroke-width="0.6"/>
<text x="75.20" y="278.60" font-size="5.71" text-anchor="start" fill="#1e1e1e" textLength="8.40" lengthAdjust="spacingAndGlyphs">0.1</text>
<text x="88.90" y="278.60" font-size="5.71" text-anchor="start" fill="#1e1e1e" textLength="3.20" lengthAdjust="spacingAndGlyphs">Z</text>
<polygon points="107.6,265.9 113.7,265.9 110.65,270.3" fill="#2e2e2e"/>
<line x1="110.65" y1="270.00" x2="110.65" y2="279.20" stroke="#2e2e2e" stroke-width="0.8"/>
<rect x="107.60" y="279.20" width="6.10" height="6.20" fill="none" stroke="#2e2e2e" stroke-width="0.7"/>
<text x="110.65" y="284.02" font-size="5.00" text-anchor="middle" fill="#1e1e1e">Z</text>
<text x="99.20" y="291.60" font-size="6.71" text-anchor="start" fill="#1e1e1e" textLength="21.80" lengthAdjust="spacingAndGlyphs">SEATING</text>
<text x="101.80" y="297.60" font-size="6.14" text-anchor="start" fill="#1e1e1e" textLength="15.70" lengthAdjust="spacingAndGlyphs">PLANE</text>
<line x1="184.40" y1="266.50" x2="184.40" y2="284.40" stroke="#2e2e2e" stroke-width="0.8"/>
<line x1="193.50" y1="266.50" x2="193.50" y2="284.40" stroke="#2e2e2e" stroke-width="0.8"/>
<line x1="173.80" y1="281.20" x2="180.00" y2="281.20" stroke="#2e2e2e" stroke-width="0.8"/>
<polygon points="184.40,281.20 179.40,282.35 179.40,280.05" fill="#2e2e2e"/>
<line x1="198.00" y1="281.20" x2="204.20" y2="281.20" stroke="#2e2e2e" stroke-width="0.8"/>
<polygon points="193.50,281.20 198.50,280.05 198.50,282.35" fill="#2e2e2e"/>
<text x="206.90" y="283.50" font-size="6.00" text-anchor="start" fill="#1e1e1e" textLength="16.90" lengthAdjust="spacingAndGlyphs">16X  b</text>
<rect x="204.50" y="285.70" width="75.00" height="7.00" fill="none" stroke="#2e2e2e" stroke-width="0.8"/>
<line x1="213.60" y1="285.70" x2="213.60" y2="292.70" stroke="#2e2e2e" stroke-width="0.8"/>
<line x1="240.60" y1="285.70" x2="240.60" y2="292.70" stroke="#2e2e2e" stroke-width="0.8"/>
<line x1="248.50" y1="285.70" x2="248.50" y2="292.70" stroke="#2e2e2e" stroke-width="0.8"/>
<line x1="254.30" y1="285.70" x2="254.30" y2="292.70" stroke="#2e2e2e" stroke-width="0.8"/>
<line x1="267.20" y1="285.70" x2="267.20" y2="292.70" stroke="#2e2e2e" stroke-width="0.8"/>
<circle cx="209.00" cy="289.20" r="2.30" fill="none" stroke="#2e2e2e" stroke-width="0.7"/>
<line x1="205.90" y1="289.20" x2="212.10" y2="289.20" stroke="#2e2e2e" stroke-width="0.6"/>
<line x1="209.00" y1="286.30" x2="209.00" y2="292.10" stroke="#2e2e2e" stroke-width="0.6"/>
<text x="215.00" y="291.30" font-size="5.86" text-anchor="start" fill="#1e1e1e" textLength="8.60" lengthAdjust="spacingAndGlyphs">.01</text>
<polyline points="225.60,286.40 224.80,286.40 224.80,292.00 225.60,292.00" fill="none" stroke="#2e2e2e" stroke-width="0.6"/>
<polyline points="238.90,286.40 239.70,286.40 239.70,292.00 238.90,292.00" fill="none" stroke="#2e2e2e" stroke-width="0.6"/>
<text x="225.80" y="291.30" font-size="5.86" text-anchor="start" fill="#1e1e1e" textLength="12.30" lengthAdjust="spacingAndGlyphs">0.25</text>
<circle cx="244.20" cy="289.20" r="2.60" fill="none" stroke="#2e2e2e" stroke-width="0.7"/>
<text x="244.20" y="290.47" font-size="3.40" text-anchor="middle" fill="#1e1e1e">M</text>
<text x="250.00" y="291.30" font-size="5.86" text-anchor="start" fill="#1e1e1e" textLength="3.00" lengthAdjust="spacingAndGlyphs">Z</text>
<text x="255.80" y="291.30" font-size="5.86" text-anchor="start" fill="#1e1e1e" textLength="2.60" lengthAdjust="spacingAndGlyphs">U</text>
<circle cx="262.30" cy="289.20" r="2.50" fill="none" stroke="#2e2e2e" stroke-width="0.7"/>
<text x="262.30" y="290.44" font-size="3.30" text-anchor="middle" fill="#1e1e1e">M</text>
<text x="268.40" y="291.30" font-size="5.86" text-anchor="start" fill="#1e1e1e" textLength="2.80" lengthAdjust="spacingAndGlyphs">T</text>
<circle cx="274.90" cy="289.20" r="2.70" fill="none" stroke="#2e2e2e" stroke-width="0.7"/>
<text x="274.90" y="290.47" font-size="3.40" text-anchor="middle" fill="#1e1e1e">M</text>
<text x="185.20" y="307.20" font-size="8.71" text-anchor="start" fill="#1e1e1e" textLength="33.80" lengthAdjust="spacingAndGlyphs">SIDE  VIEW</text>
<line x1="185.20" y1="309.50" x2="219.00" y2="309.50" stroke="#2e2e2e" stroke-width="0.8"/>
<path d="M 174.1 410.1 L 186 410.0 C 189.5 409.8, 190.8 407.5, 191.2 402 C 191.6 394, 193 385.6, 202 385.5 L 236.5 385.5" fill="none" stroke="#2e2e2e" stroke-width="0.8"/>
<path d="M 174.1 417.6 L 186 417.6 C 193 417.6, 197.2 413, 198.3 404 C 199.3 396, 200.5 392.8, 206 392.8 L 236.5 392.8" fill="none" stroke="#2e2e2e" stroke-width="0.8"/>
<path d="M 236.0 385.5 Q 238.6 385.8 237.6 388.2" fill="none" stroke="#2e2e2e" stroke-width="0.8"/>
<path d="M 236.0 392.8 Q 238.6 392.4 238.0 390.2" fill="none" stroke="#2e2e2e" stroke-width="0.8"/>
<line x1="211.90" y1="349.80" x2="211.90" y2="408.30" stroke="#555" stroke-width="0.9"/>
<path d="M 216.4 349.8 L 212.3 381.5 L 212.3 395.0 C 212.4 401, 212.8 405, 214.5 408 C 216 410.8, 218 411.6, 221 411.6 L 228.0 411.6" fill="none" stroke="#2e2e2e" stroke-width="0.8"/>
<path d="M 214.6 366.5 C 215.3 362, 217.5 360.2, 221 360.2 L 228.5 360.2" fill="none" stroke="#2e2e2e" stroke-width="0.8"/>
<path d="M 233.5 352.5 C 229 359, 225.5 366, 227.5 372 C 229 376, 231 378.5, 232.5 380.5" fill="none" stroke="#2e2e2e" stroke-width="0.8"/>
<path d="M 232.5 396.5 C 229 399, 226.5 403, 227.5 408 C 228.5 413, 233 416, 239.4 422.1" fill="none" stroke="#2e2e2e" stroke-width="0.8"/>
<path d="M 202.0 355.3 Q 206 353.3 209.5 353.2" fill="none" stroke="#2e2e2e" stroke-width="0.8"/>
<polygon points="211.60,353.10 208.05,354.28 207.95,352.28" fill="#2e2e2e"/>
<path d="M 225.0 355.7 Q 221 354.0 218.3 353.9" fill="none" stroke="#2e2e2e" stroke-width="0.8"/>
<polygon points="216.50,353.80 220.15,352.98 220.05,354.98" fill="#2e2e2e"/>
<text x="223.90" y="358.60" font-size="5.00" text-anchor="start" fill="#1e1e1e" textLength="5.60" lengthAdjust="spacingAndGlyphs">θ1</text>
<line x1="169.30" y1="408.40" x2="195.20" y2="408.40" stroke="#333" stroke-width="0.8"/>
<line x1="198.70" y1="408.40" x2="202.80" y2="408.40" stroke="#333" stroke-width="0.8"/>
<line x1="206.10" y1="408.40" x2="211.70" y2="408.40" stroke="#333" stroke-width="0.8"/>
<line x1="215.00" y1="408.40" x2="241.10" y2="408.40" stroke="#333" stroke-width="0.8"/>
<line x1="242.90" y1="408.40" x2="283.60" y2="408.40" stroke="#333" stroke-width="0.8"/>
<line x1="169.30" y1="417.50" x2="195.20" y2="417.50" stroke="#333" stroke-width="0.8"/>
<line x1="198.70" y1="417.50" x2="202.80" y2="417.50" stroke="#333" stroke-width="0.8"/>
<line x1="206.10" y1="417.50" x2="211.70" y2="417.50" stroke="#333" stroke-width="0.8"/>
<line x1="215.00" y1="417.50" x2="241.10" y2="417.50" stroke="#333" stroke-width="0.8"/>
<line x1="242.90" y1="417.50" x2="283.60" y2="417.50" stroke="#333" stroke-width="0.8"/>
<line x1="157.90" y1="410.80" x2="174.10" y2="410.10" stroke="#2e2e2e" stroke-width="0.7"/>
<line x1="157.90" y1="418.60" x2="174.10" y2="417.60" stroke="#2e2e2e" stroke-width="0.7"/>
<line x1="161.00" y1="399.80" x2="161.00" y2="406.50" stroke="#2e2e2e" stroke-width="0.8"/>
<polygon points="161.00,410.60 159.85,405.60 162.15,405.60" fill="#2e2e2e"/>
<line x1="161.00" y1="422.00" x2="161.00" y2="429.80" stroke="#2e2e2e" stroke-width="0.8"/>
<polygon points="161.00,418.80 162.15,423.80 159.85,423.80" fill="#2e2e2e"/>
<text x="160.20" y="416.60" font-size="5.00" text-anchor="start" fill="#1e1e1e">c</text>
<line x1="174.10" y1="410.10" x2="174.10" y2="432.80" stroke="#2e2e2e" stroke-width="0.8"/>
<line x1="197.30" y1="409.00" x2="197.30" y2="432.80" stroke="#2e2e2e" stroke-width="0.8"/>
<polygon points="174.30,429.40 179.30,428.25 179.30,430.55" fill="#2e2e2e"/>
<line x1="178.50" y1="429.40" x2="180.80" y2="429.40" stroke="#2e2e2e" stroke-width="0.8"/>
<polygon points="197.10,429.40 192.10,430.55 192.10,428.25" fill="#2e2e2e"/>
<line x1="191.60" y1="429.40" x2="193.00" y2="429.40" stroke="#2e2e2e" stroke-width="0.8"/>
<text x="185.40" y="431.70" font-size="5.80" text-anchor="start" fill="#1e1e1e">L</text>
<rect x="239.40" y="422.10" width="35.50" height="13.30" fill="none" stroke="#2e2e2e" stroke-width="0.8"/>
<text x="242.00" y="431.60" font-size="7.14" text-anchor="start" fill="#1e1e1e" textLength="29.00" lengthAdjust="spacingAndGlyphs">.01  [0.25]</text>
<line x1="274.90" y1="428.20" x2="279.30" y2="428.20" stroke="#2e2e2e" stroke-width="0.8"/>
<line x1="279.30" y1="428.20" x2="279.30" y2="422.00" stroke="#2e2e2e" stroke-width="0.8"/>
<polygon points="279.30,418.20 280.45,423.20 278.15,423.20" fill="#2e2e2e"/>
<line x1="279.30" y1="397.20" x2="279.30" y2="404.00" stroke="#2e2e2e" stroke-width="0.8"/>
<polygon points="279.30,408.10 278.15,403.10 280.45,403.10" fill="#2e2e2e"/>
<text x="241.60" y="443.80" font-size="6.43" text-anchor="start" fill="#1e1e1e" textLength="37.10" lengthAdjust="spacingAndGlyphs">GAUGE  PLANE</text>
<text x="173.00" y="443.80" font-size="6.86" text-anchor="start" fill="#1e1e1e" textLength="29.30" lengthAdjust="spacingAndGlyphs">DETAIL  F</text>
<text x="156.90" y="451.70" font-size="7.29" text-anchor="start" fill="#1e1e1e" textLength="63.40" lengthAdjust="spacingAndGlyphs">ROTATED  90°  CCW</text>
<text x="166.50" y="458.10" font-size="6.86" text-anchor="start" fill="#1e1e1e" textLength="43.70" lengthAdjust="spacingAndGlyphs">SCALE:  20/1</text>
</svg>
</body></html>
